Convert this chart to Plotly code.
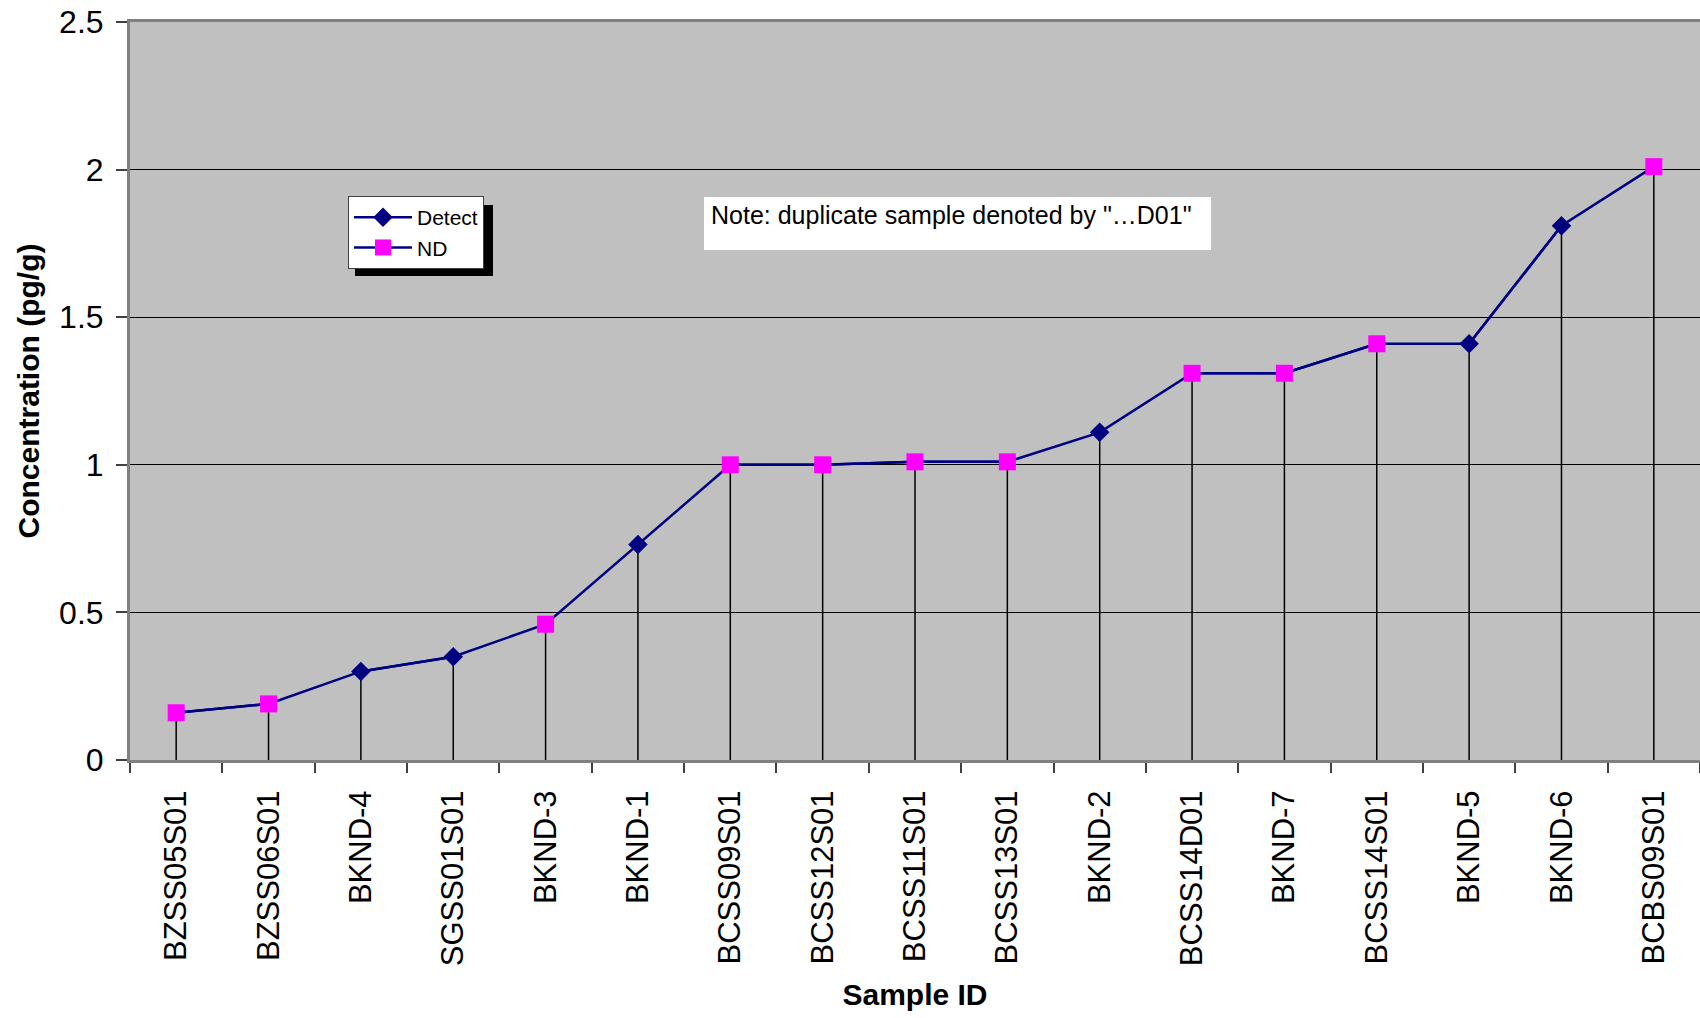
import plotly.graph_objects as go

samples = ["BZSS05S01", "BZSS06S01", "BKND-4", "SGSS01S01", "BKND-3", "BKND-1",
           "BCSS09S01", "BCSS12S01", "BCSS11S01", "BCSS13S01", "BKND-2", "BCSS14D01",
           "BKND-7", "BCSS14S01", "BKND-5", "BKND-6", "BCBS09S01"]
concentration = [0.16, 0.19, 0.30, 0.35, 0.46, 0.73, 1.00, 1.00, 1.01, 1.01, 1.11, 1.31,
                 1.31, 1.41, 1.41, 1.81, 2.01]
status = ["ND", "ND", "Detect", "Detect", "ND", "Detect", "ND", "ND", "ND", "ND", "Detect",
          "ND", "ND", "ND", "Detect", "Detect", "ND"]
y_ticks = [0, 0.5, 1, 1.5, 2, 2.5]
y_tick_text = ["0", "0.5", "1", "1.5", "2", "2.5"]
note_text = 'Note: duplicate sample denoted by "\u2026D01"'

NAVY = "#000080"
MAGENTA = "#FF00FF"
FONT = "Liberation Sans, Arial, sans-serif"

fig = go.Figure()

# drop lines from each point to zero
drop_x, drop_y = [], []
for s, v in zip(samples, concentration):
    drop_x += [s, s, None]
    drop_y += [0, v, None]
fig.add_trace(go.Scatter(x=drop_x, y=drop_y, mode="lines",
                         line=dict(color="black", width=1.5),
                         showlegend=False, hoverinfo="skip"))

# connecting line through all samples
fig.add_trace(go.Scatter(x=samples, y=concentration, mode="lines",
                         line=dict(color=NAVY, width=2.5), showlegend=False))

det_y = [v if s == "Detect" else None for v, s in zip(concentration, status)]
nd_y = [v if s == "ND" else None for v, s in zip(concentration, status)]

fig.add_trace(go.Scatter(x=samples, y=det_y, mode="lines+markers", name="Detect",
                         connectgaps=False,
                         line=dict(color=NAVY, width=2.5),
                         marker=dict(symbol="diamond", size=15, color=NAVY)))
fig.add_trace(go.Scatter(x=samples, y=nd_y, mode="lines+markers", name="ND",
                         connectgaps=False,
                         line=dict(color=NAVY, width=2.5),
                         marker=dict(symbol="square", size=17, color=MAGENTA)))

W, H = 1700, 1018
L, R, T, B = 130, 0, 22, 258
pw, ph = W - L - R, H - T - B


def px(x):
    return (x - L) / pw


def py(y):
    return (H - B - y) / ph


# legend shadow
fig.add_shape(type="rect", xref="paper", yref="paper",
              x0=px(355), x1=px(493), y0=py(276), y1=py(205),
              fillcolor="black", line=dict(width=0), layer="above")
# note box
fig.add_shape(type="rect", xref="paper", yref="paper",
              x0=px(704), x1=px(1211), y0=py(250), y1=py(197),
              fillcolor="white", line=dict(width=0), layer="above")
fig.add_annotation(xref="paper", yref="paper", x=px(709), y=py(215),
                   xanchor="left", yanchor="middle", text=note_text,
                   showarrow=False, font=dict(family=FONT, size=25, color="black"))

fig.update_layout(
    width=W, height=H,
    margin=dict(l=L, r=R, t=T, b=B, autoexpand=False),
    paper_bgcolor="white", plot_bgcolor="#C0C0C0",
    font=dict(family=FONT, color="black"),
    legend=dict(x=px(348), y=py(196), xanchor="left", yanchor="top",
                bgcolor="white", bordercolor="#404040", borderwidth=1,
                font=dict(family=FONT, size=21, color="black"),
                itemwidth=58, tracegroupgap=0),
    xaxis=dict(type="category", categoryorder="array", categoryarray=samples,
               range=[-0.5, 16.5], tickangle=-90, tickson="boundaries",
               ticks="outside", ticklen=10, tickcolor="#404040", tickwidth=1.5,
               showline=True, linecolor="#808080", linewidth=3, mirror=True,
               showgrid=False, tickfont=dict(family=FONT, size=31),
               ticklabelstandoff=15, automargin=False,
               title=dict(text="<b>Sample ID</b>", font=dict(family=FONT, size=30),
                          standoff=19)),
    yaxis=dict(range=[0, 2.5], tickvals=y_ticks, ticktext=y_tick_text,
               ticks="outside", ticklen=11, tickcolor="#404040", tickwidth=1.5,
               showline=True, linecolor="#808080", linewidth=3, mirror=True,
               showgrid=True, gridcolor="black", gridwidth=1, zeroline=False,
               tickfont=dict(family=FONT, size=32), ticklabelstandoff=6,
               automargin=False,
               title=dict(text="<b>Concentration (pg/g)</b>",
                          font=dict(family=FONT, size=30), standoff=11)),
)

fig.write_html("out.html", config={"displayModeBar": False},
               post_script="document.body.style.margin='0';document.body.style.overflow='hidden';")
